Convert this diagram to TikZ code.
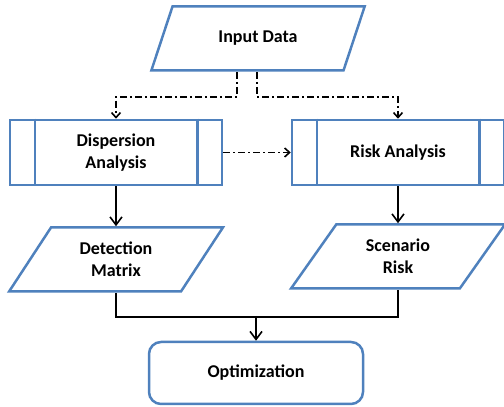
\documentclass[tikz,border=0pt]{standalone}
\usepackage{fontspec}
\setmainfont{Carlito}
\usepackage{tikz}
\usetikzlibrary{shapes.geometric,arrows.meta}
\definecolor{boxblue}{RGB}{79,129,189}

\begin{document}
\begin{tikzpicture}[x = 1pt, y = 1pt, line width = 1.6pt,
    >={Straight Barb[length=8pt,width=12pt]},
    font = \fontsize{18}{22}\selectfont\bfseries,
    io/.style = {trapezium, trapezium left angle = 56, trapezium right angle = 124,
        trapezium stretches = true, minimum width = 214pt, minimum height = 64pt,
        draw = boxblue, line width = 2.5pt, align = center, inner sep = 0pt},
    proc/.style = {rectangle, minimum width = 212pt, minimum height = 65pt,
        draw = boxblue, line width = 2.5pt, align = center},
    term/.style = {rectangle, rounded corners = 12pt, minimum width = 214pt,
        minimum height = 62pt, draw = boxblue, line width = 2.5pt},
    dashdot/.style = {dash pattern = on 7pt off 3pt on 2pt off 3pt,
        -{Straight Barb[length=5pt,width=9pt]}}]
\useasboundingbox (0,0) rectangle (504,407);
\draw (258,368.5) node[io](a1){Input Data}
    (116,254.5) node[proc](a2){Dispersion\\Analysis}
    (398,254.5) node[proc](a3){Risk Analysis}
    (116,147.5) node[io](a4){Detection\\Matrix}
    (398,150.5) node[io](a5){Scenario\\Risk}
    (256,34) node[term](a6){Optimization};
    \draw [boxblue, line width = 2.5pt] ([xshift=26pt]a2.north west) -- ([xshift=26pt]a2.south west)
        ([xshift=-26pt]a2.north east) -- ([xshift=-26pt]a2.south east);
    \draw [boxblue, line width = 2.5pt] ([xshift=26pt]a3.north west) -- ([xshift=26pt]a3.south west)
        ([xshift=-26pt]a3.north east) -- ([xshift=-26pt]a3.south east);
    \draw [dashdot] ([xshift=-21pt]a1.south) -- ++(0,-25) -| (a2.north);
    \draw [dashdot] ([xshift=-1pt]a1.south) -- ++(0,-25) -| (a3.north);
    \draw [dashdot] (a2.east) -- (a3.west);
    \draw [->] (a2.south) -- (a4.north);
    \draw [->] (a3.south) -- (a5.north);
    \draw (a4.south) -- ++(0,-24) -| (a5.south);
    \coordinate (j) at (256,91);
    \draw [->] (j) -- (a6.north);
\end{tikzpicture}
\end{document}
